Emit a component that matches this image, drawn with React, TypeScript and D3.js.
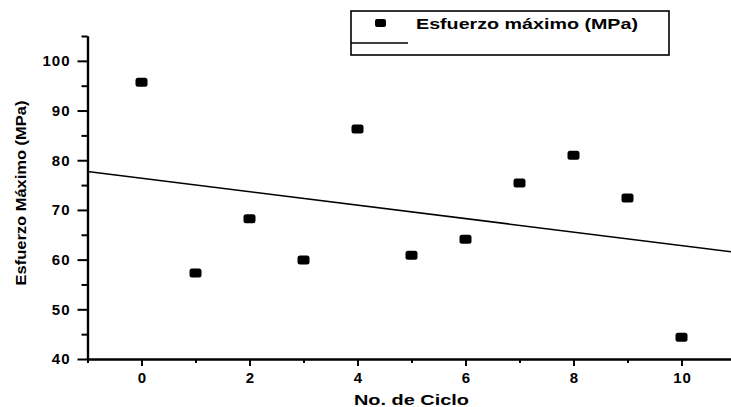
import React, { useEffect, useRef } from 'react';
import * as d3 from 'd3';

// Cycle number vs maximum stress (MPa)
const cycles = [0, 1, 2, 3, 4, 5, 6, 7, 8, 9, 10];
const maxStress = [95.7, 57.3, 68.2, 59.9, 86.3, 60.9, 64.1, 75.4, 81.0, 72.4, 44.4];

const xMajorTicks = [0, 2, 4, 6, 8, 10];
const xMinorTicks = [-1, 1, 3, 5, 7, 9, 11];
const yMajorTicks = [40, 50, 60, 70, 80, 90, 100];
const yMinorTicks = [45, 55, 65, 75, 85, 95, 105];

const legendLabel = 'Esfuerzo máximo (MPa)';
const xTitle = 'No. de Ciclo';
const yTitle = 'Esfuerzo Máximo (MPa)';

const FONT = '"Liberation Sans", Arial, Helvetica, sans-serif';

const App = () => {
    const svgRef = useRef<SVGSVGElement>(null);

    useEffect(() => {
        const width = 731;
        const height = 407;

        const svg = d3.select(svgRef.current);
        svg.selectAll('*').remove();
        svg.attr('width', width).attr('height', height);

        const xScale = d3.scaleLinear().domain([-1, 11]).range([87.5, 735.5]);
        const yScale = d3.scaleLinear().domain([40, 105]).range([359, 36]);

        const styleAxis = (g: any) => {
            g.select('.domain').attr('stroke', '#000').attr('stroke-width', 2.2);
            g.selectAll('.tick line').attr('stroke', '#000').attr('stroke-width', 2);
            g.selectAll('.tick text')
                .attr('fill', '#000')
                .style('font-family', FONT)
                .style('font-weight', 'bold')
                .style('font-size', '15px')
                .style('letter-spacing', '1px');
        };

        // minor ticks first, then major ticks with labels and the axis line
        svg.append('g')
            .attr('transform', `translate(0, ${yScale(40)})`)
            .call(d3.axisBottom(xScale).tickValues(xMinorTicks).tickSize(4).tickSizeOuter(0).tickFormat(() => ''))
            .call(styleAxis);
        svg.append('g')
            .attr('transform', `translate(0, ${yScale(40)})`)
            .call(d3.axisBottom(xScale).tickValues(xMajorTicks).tickSize(7).tickSizeOuter(0).tickPadding(6))
            .call(styleAxis)
            .selectAll('.tick text')
            .attr('dx', '0.5px');

        svg.append('g')
            .attr('transform', `translate(${xScale(-1)}, 0)`)
            .call(d3.axisLeft(yScale).tickValues(yMinorTicks).tickSize(6).tickSizeOuter(0).tickFormat(() => ''))
            .call(styleAxis);
        svg.append('g')
            .attr('transform', `translate(${xScale(-1)}, 0)`)
            .call(d3.axisLeft(yScale).tickValues(yMajorTicks).tickSize(10).tickSizeOuter(0).tickPadding(7))
            .call(styleAxis);

        // least squares fit over the measured points
        const xMean = d3.mean(cycles) as number;
        const yMean = d3.mean(maxStress) as number;
        const sxy = d3.sum(cycles, (c, i) => (c - xMean) * (maxStress[i] - yMean));
        const sxx = d3.sum(cycles, c => (c - xMean) ** 2);
        const slope = sxy / sxx;
        const intercept = yMean - slope * xMean;
        const [x0, x1] = xScale.domain();

        svg.append('line')
            .attr('x1', xScale(x0))
            .attr('y1', yScale(intercept + slope * x0))
            .attr('x2', xScale(x1))
            .attr('y2', yScale(intercept + slope * x1))
            .attr('stroke', '#000')
            .attr('stroke-width', 1.6);

        svg.append('g')
            .selectAll('rect')
            .data(cycles)
            .join('rect')
            .attr('x', d => xScale(d) - 6)
            .attr('y', (d, i) => yScale(maxStress[i]) - 4.5)
            .attr('width', 12)
            .attr('height', 9)
            .attr('rx', 2.5)
            .attr('fill', '#000');

        // legend
        const legend = svg.append('g');
        legend.append('rect')
            .attr('x', 351).attr('y', 11)
            .attr('width', 318).attr('height', 44)
            .attr('fill', 'none')
            .attr('stroke', '#000')
            .attr('stroke-width', 1.6);
        legend.append('rect')
            .attr('x', 375).attr('y', 19)
            .attr('width', 11).attr('height', 8)
            .attr('rx', 2)
            .attr('fill', '#000');
        legend.append('text')
            .attr('x', 416).attr('y', 29)
            .attr('textLength', 222)
            .attr('lengthAdjust', 'spacingAndGlyphs')
            .style('font-family', FONT)
            .style('font-weight', 'bold')
            .style('font-size', '15px')
            .text(legendLabel);
        legend.append('line')
            .attr('x1', 351).attr('x2', 408)
            .attr('y1', 43).attr('y2', 43)
            .attr('stroke', '#000')
            .attr('stroke-width', 1.4);

        // axis titles
        svg.append('text')
            .attr('x', xScale(5))
            .attr('y', 405)
            .attr('text-anchor', 'middle')
            .attr('textLength', 115)
            .attr('lengthAdjust', 'spacingAndGlyphs')
            .style('font-family', FONT)
            .style('font-weight', 'bold')
            .style('font-size', '15px')
            .text(xTitle);

        svg.append('text')
            .attr('transform', `translate(26, 193) rotate(-90)`)
            .attr('text-anchor', 'middle')
            .attr('textLength', 185)
            .attr('lengthAdjust', 'spacingAndGlyphs')
            .style('font-family', FONT)
            .style('font-weight', 'bold')
            .style('font-size', '15px')
            .text(yTitle);
    }, []);

    return (
        <div style={{ position: 'absolute', left: 0, top: 0, width: 731, height: 407, background: '#fff' }}>
            <svg ref={svgRef} style={{ display: 'block' }}></svg>
        </div>
    );
};

export default App;
